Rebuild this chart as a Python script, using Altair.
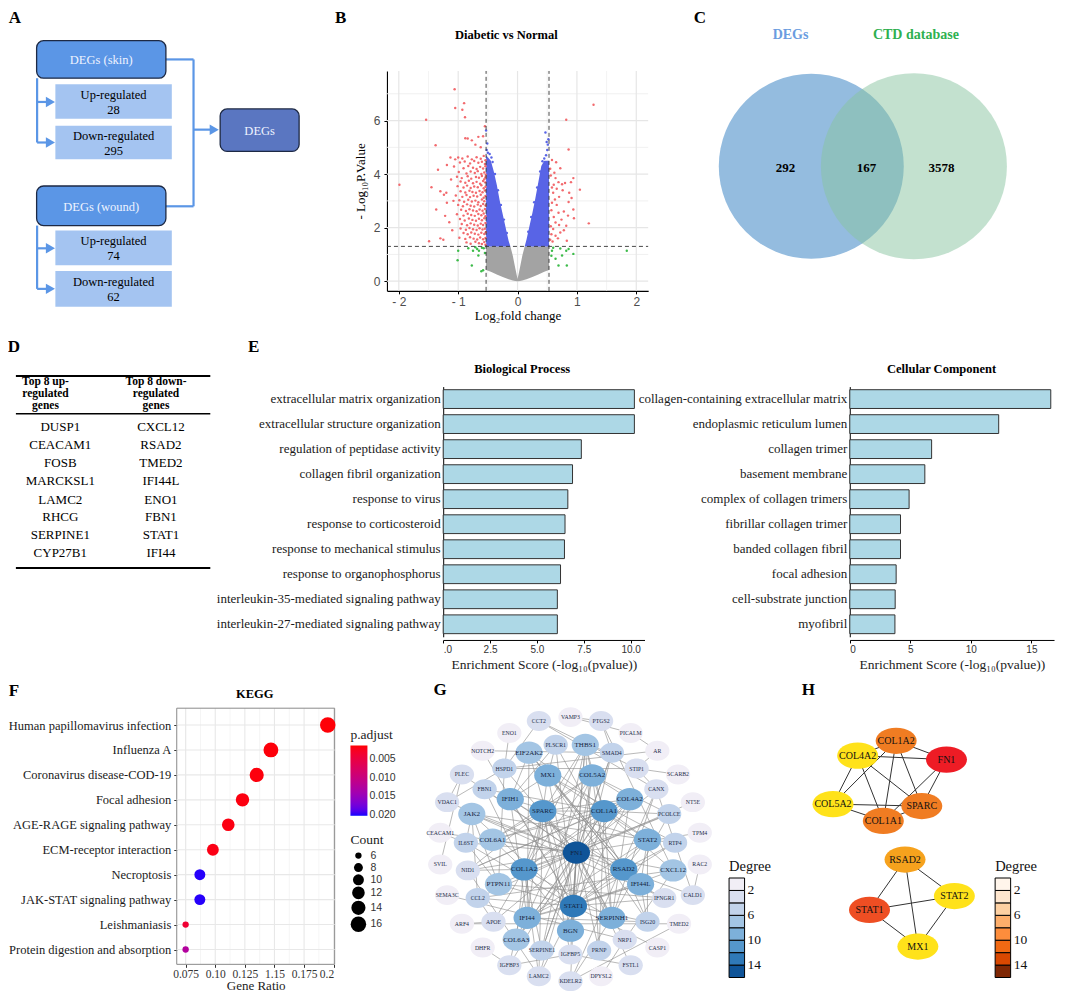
import altair as alt
import pandas as pd

# ============================ DATA ============================
# A: DEG screening flow
a_titles = ["DEGs (skin)", "Up-regulated", "Down-regulated", "DEGs (wound)",
            "Up-regulated", "Down-regulated", "DEGs"]
a_counts = ["", "28", "295", "", "74", "62", ""]
a_kinds = ["group", "sub", "sub", "group", "sub", "sub", "target"]

# B: volcano plot (log2 fold change, -log10 P value)
volcano_title = "Diabetic vs Normal"
fc_cut = 0.53
p_cut = 1.3
red_pts = [
    (-1.06, 7.17), (-0.90, 6.65), (-1.05, 6.47), (-0.93, 6.40), (-0.885, 6.12), (-1.54, 6.03),
    (-0.55, 5.79), (-1.38, 5.08), (-0.88, 5.34), (-0.84, 5.33), (-0.77, 5.26), (-0.66, 5.39),
    (-0.58, 5.41), (-0.71, 5.10), (-0.62, 5.00), (-1.34, 4.16), (-1.99, 3.60), (-1.45, 3.51),
    (-1.30, 3.36), (-1.37, 2.68), (-1.49, 1.49), (-1.30, 1.60), (-1.22, 2.44), (-1.19, 2.93),
    (-1.13, 4.62), (-1.19, 4.34), (-1.24, 3.23), (-1.25, 1.55), (-1.10, 1.90), (-1.15, 2.20),
    (-1.08, 3.00), (-1.12, 3.80), (-1.20, 3.30), (-1.05, 4.55),
    (-1.00, 4.62), (-0.93, 4.58), (-0.84, 4.66), (-0.77, 4.55), (-0.69, 4.63), (-0.62, 4.57), (-0.57, 4.68), (-0.54, 4.52),
    (-0.97, 4.43), (-0.89, 4.47), (-0.80, 4.40), (-0.73, 4.49), (-0.66, 4.42), (-0.60, 4.46), (-0.55, 4.38),
    (-1.07, 4.28), (-0.91, 4.22), (-0.83, 4.30), (-0.75, 4.24), (-0.69, 4.19), (-0.63, 4.27), (-0.58, 4.21), (-0.54, 4.29),
    (-0.99, 4.08), (-0.86, 4.02), (-0.79, 4.10), (-0.72, 4.04), (-0.67, 4.11), (-0.61, 4.00), (-0.56, 4.06), (-0.535, 3.98),
    (-1.02, 3.90), (-0.94, 3.85), (-0.84, 3.92), (-0.78, 3.83), (-0.70, 3.89), (-0.65, 3.86), (-0.60, 3.93), (-0.56, 3.81), (-0.54, 3.88),
    (-0.96, 3.72), (-0.88, 3.68), (-0.82, 3.75), (-0.75, 3.66), (-0.69, 3.71), (-0.63, 3.64), (-0.58, 3.74), (-0.545, 3.69),
    (-1.01, 3.55), (-0.91, 3.50), (-0.85, 3.57), (-0.79, 3.48), (-0.73, 3.54), (-0.67, 3.51), (-0.61, 3.58), (-0.57, 3.47), (-0.54, 3.53),
    (-0.96, 3.36), (-0.88, 3.31), (-0.81, 3.38), (-0.76, 3.33), (-0.70, 3.30), (-0.64, 3.37), (-0.59, 3.32), (-0.55, 3.39),
    (-1.04, 3.20), (-0.93, 3.15), (-0.86, 3.22), (-0.80, 3.14), (-0.74, 3.19), (-0.68, 3.16), (-0.62, 3.23), (-0.57, 3.12), (-0.54, 3.18),
    (-0.98, 3.02), (-0.90, 2.97), (-0.83, 3.04), (-0.77, 2.98), (-0.71, 3.01), (-0.66, 2.95), (-0.60, 3.05), (-0.56, 2.99),
    (-1.00, 2.85), (-0.92, 2.80), (-0.85, 2.87), (-0.79, 2.82), (-0.73, 2.79), (-0.67, 2.86), (-0.62, 2.81), (-0.58, 2.88), (-0.54, 2.83),
    (-0.95, 2.67), (-0.87, 2.62), (-0.81, 2.69), (-0.75, 2.64), (-0.69, 2.61), (-0.64, 2.68), (-0.59, 2.63), (-0.55, 2.70),
    (-1.02, 2.50), (-0.91, 2.45), (-0.84, 2.52), (-0.78, 2.47), (-0.72, 2.44), (-0.66, 2.51), (-0.61, 2.46), (-0.57, 2.53), (-0.54, 2.43),
    (-0.97, 2.32), (-0.89, 2.27), (-0.82, 2.34), (-0.76, 2.29), (-0.70, 2.26), (-0.65, 2.33), (-0.60, 2.28), (-0.56, 2.35),
    (-0.94, 2.14), (-0.85, 2.09), (-0.79, 2.16), (-0.73, 2.11), (-0.67, 2.08), (-0.62, 2.15), (-0.58, 2.10), (-0.54, 2.17),
    (-0.96, 1.97), (-0.87, 1.92), (-0.81, 1.99), (-0.75, 1.94), (-0.69, 1.91), (-0.64, 1.98), (-0.59, 1.93), (-0.55, 1.96),
    (-0.91, 1.80), (-0.84, 1.75), (-0.78, 1.82), (-0.72, 1.77), (-0.66, 1.74), (-0.61, 1.81), (-0.56, 1.76), (-0.535, 1.83),
    (-0.98, 1.62), (-0.88, 1.58), (-0.80, 1.64), (-0.74, 1.59), (-0.68, 1.56), (-0.63, 1.63), (-0.58, 1.57), (-0.54, 1.61),
    (-0.86, 1.45), (-0.79, 1.40), (-0.71, 1.47), (-0.65, 1.42), (-0.60, 1.39), (-0.56, 1.46), (-0.54, 1.36),
    (1.28, 6.59), (0.82, 6.03), (0.86, 4.92), (0.58, 4.53), (0.65, 4.44), (0.72, 4.22), (0.94, 3.85),
    (0.80, 3.67), (0.69, 3.70), (0.61, 3.60), (0.75, 3.62), (1.05, 3.42), (0.87, 3.30), (0.66, 3.45),
    (0.91, 3.11), (0.86, 2.96), (0.58, 2.93), (0.94, 2.68), (0.69, 2.56), (0.78, 2.60), (0.64, 2.19),
    (1.20, 2.16), (0.82, 2.07), (0.72, 1.82), (0.64, 1.70), (0.83, 1.51), (0.59, 1.48), (0.56, 3.95),
    (0.60, 3.30), (0.63, 3.05), (0.57, 2.65), (0.61, 2.40), (0.56, 2.05), (0.66, 2.85), (0.70, 3.15),
    (0.74, 2.30), (0.57, 1.75), (0.68, 1.60), (0.62, 4.05), (0.55, 4.20), (0.76, 3.40), (0.90, 3.70),
    (0.85, 2.45), (0.60, 1.95), (0.55, 1.55), (0.70, 2.10), (0.78, 1.90), (0.95, 2.35), (0.58, 3.50),
    (0.64, 3.85),
]
green_pts = [
    (-1.00, 1.14), (-1.01, 0.78), (-0.83, 1.23), (-0.75, 1.14), (-0.77, 0.59), (-0.65, 1.14),
    (-0.61, 0.37), (-0.68, 1.20), (-0.57, 1.23), (-0.66, 0.96), (-0.58, 0.41), (-0.55, 1.05),
    (-0.60, 1.25), (-0.71, 1.27),
    (0.58, 1.14), (0.64, 0.84), (0.69, 0.59), (0.75, 0.96), (0.82, 1.14), (0.83, 0.59),
    (0.94, 1.02), (0.86, 1.20), (1.84, 1.14), (0.57, 0.95), (0.60, 1.25), (0.72, 1.22),
]
blue_pts = [
    (-0.53, 5.63), (-0.51, 5.14), (-0.52, 4.90), (-0.50, 4.80), (-0.47, 4.75), (-0.44, 4.62),
    (-0.42, 4.45), (-0.38, 4.00), (-0.33, 3.40), (-0.28, 2.85), (-0.23, 2.30), (-0.18, 1.80),
    (0.47, 5.55), (0.49, 5.20), (0.51, 5.10), (0.50, 4.90), (0.48, 4.70), (0.45, 4.58),
    (0.42, 4.48), (0.38, 4.10), (0.33, 3.50), (0.28, 2.95), (0.23, 2.40), (0.18, 1.85), (0.52, 5.30),
]
blue_env_left_x = [-0.53, -0.45, -0.40, -0.35, -0.30, -0.25, -0.20, -0.15, -0.12]
blue_env_left_y = [4.70, 4.50, 4.10, 3.60, 3.00, 2.50, 2.00, 1.50, 1.30]
blue_env_right_x = [0.12, 0.15, 0.20, 0.25, 0.30, 0.35, 0.40, 0.45, 0.53]
blue_env_right_y = [1.30, 1.55, 2.05, 2.55, 3.10, 3.70, 4.30, 4.50, 4.50]
gray_x = [-0.53, -0.45, -0.35, -0.25, -0.15, -0.12, -0.08, -0.04, 0.0,
          0.04, 0.08, 0.12, 0.15, 0.25, 0.35, 0.45, 0.53]
gray_top = [1.3, 1.3, 1.3, 1.3, 1.3, 1.3, 0.95, 0.5, 0.08,
            0.5, 0.95, 1.3, 1.3, 1.3, 1.3, 1.3, 1.3]
gray_bottom = [0.42, 0.35, 0.25, 0.16, 0.07, 0.05, 0.03, 0.01, 0.0,
               0.01, 0.03, 0.05, 0.07, 0.16, 0.25, 0.35, 0.42]

# C: Venn diagram
venn_sets = ["DEGs", "CTD database"]
venn_counts = [292, 167, 3578]

# D: top genes table
head_up = ["Top 8 up-", "regulated", "genes"]
head_down = ["Top 8 down-", "regulated", "genes"]
top_up = ["DUSP1", "CEACAM1", "FOSB", "MARCKSL1", "LAMC2", "RHCG", "SERPINE1", "CYP27B1"]
top_down = ["CXCL12", "RSAD2", "TMED2", "IFI44L", "ENO1", "FBN1", "STAT1", "IFI44"]

# E: GO enrichment
bp_terms = ["extracellular matrix organization", "extracellular structure organization",
            "regulation of peptidase activity", "collagen fibril organization",
            "response to virus", "response to corticosteroid",
            "response to mechanical stimulus", "response to organophosphorus",
            "interleukin-35-mediated signaling pathway",
            "interleukin-27-mediated signaling pathway"]
bp_scores = [10.2, 10.2, 7.37, 6.9, 6.65, 6.5, 6.47, 6.26, 6.09, 6.09]
cc_terms = ["collagen-containing extracellular matrix", "endoplasmic reticulum lumen",
            "collagen trimer", "basement membrane", "complex of collagen trimers",
            "fibrillar collagen trimer", "banded collagen fibril", "focal adhesion",
            "cell-substrate junction", "myofibril"]
cc_scores = [16.6, 12.3, 6.76, 6.2, 4.9, 4.19, 4.19, 3.83, 3.75, 3.73]

# F: KEGG
kegg_terms = ["Human papillomavirus infection", "Influenza A", "Coronavirus disease-COD-19",
              "Focal adhesion", "AGE-RAGE signaling pathway", "ECM-receptor interaction",
              "Necroptosis", "JAK-STAT signaling pathway", "Leishmaniasis",
              "Protein digestion and absorption"]
kegg_ratio = [0.195, 0.147, 0.135, 0.123, 0.111, 0.098, 0.087, 0.087, 0.075, 0.075]
kegg_padj = [0.0014, 0.0015, 0.0016, 0.0017, 0.0018, 0.0019, 0.0200, 0.0200, 0.0038, 0.0125]
kegg_count = [16, 15, 14, 13, 12, 11, 10, 10, 6, 6]
kegg_ticks = [0.075, 0.1, 0.125, 0.15, 0.175, 0.2]
kegg_tick_labels = ["0.075", "0.10", "0.125", "1.15", "0.175", "0.2"]

# G: PPI network (layout units relative to the network centre)
ppi_genes = ["CCT2", "VAMP3", "PTGS2", "ENO1", "PICALM", "NOTCH2", "EIF2AK2", "PLSCR1", "THBS1", "SMAD4",
             "AR", "HSPD1", "MX1", "COL5A2", "STIP1", "SCARB2", "PLEC", "FBN1", "IFIH1", "CANX",
             "COL4A2", "VDAC1", "NT5E", "JAK2", "SPARC", "COL1A1", "PCOLCE", "CEACAM1", "IL6ST", "COL6A1",
             "FN1", "STAT2", "RTP4", "TPM4", "SVIL", "NID1", "COL1A2", "RSAD2", "CXCL12", "RAC2",
             "PTPN11", "IFI44L", "SEMA3C", "CCL2", "IFNGR1", "CALD1", "STAT1", "IFI44", "SERPINH1", "ARF4",
             "APOE", "ISG20", "TMED2", "BGN", "COL6A3", "NRP1", "DHFR", "CASP1", "SERPINE1", "IGFBP5",
             "PRNP", "IGFBP3", "FSTL1", "LAMC2", "KDELR2", "DPYSL2"]
ppi_degree = [3, 2, 3, 2, 2, 2, 8, 5, 8, 5,
              2, 5, 10, 10, 4, 2, 3, 6, 9, 4,
              10, 3, 2, 7, 11, 11, 5, 2, 6, 8,
              15, 10, 6, 1, 2, 4, 12, 12, 7, 1,
              8, 9, 2, 6, 4, 3, 13, 9, 9, 2,
              4, 6, 2, 9, 7, 4, 2, 1, 6, 4,
              6, 3, 3, 3, 3, 2]
ppi_lx = [-38, -6, 25, -68, 55, -95, -48, -21, 9, 36,
          82, -73, -29, 16, 61, 103, -116, -93, -67, 81,
          54, -131, 118, -106, -34, 28, 94, -138, -112, -85,
          0, 72, 100, 125, -138, -110, -53, 48, 98, 125,
          -79, 65, -131, -100, 89, 118, -3, -50, 36, -116,
          -84, 72, 104, -6, -61, 49, -95, 82, -35, -6,
          23, -68, 55, -38, -6, 25]
ppi_ly = [-133, -137, -133, -121, -121, -103, -101, -109, -109, -101,
          -103, -85, -78, -78, -85, -79, -79, -64, -54, -64,
          -54, -51, -51, -39, -42, -42, -39, -20, -10, -13,
          0, -13, -10, -20, 12, 18, 17, 17, 18, 12,
          32, 32, 43, 46, 46, 43, 54, 66, 66, 72,
          70, 70, 72, 79, 88, 88, 96, 96, 99, 103,
          99, 114, 114, 125, 130, 125]
ppi_links = {
    "FN1": "COL1A2 COL1A1 SPARC COL5A2 COL4A2 THBS1 BGN SERPINH1 COL6A1 COL6A3 SERPINE1 IGFBP5 IGFBP3 "
           "LAMC2 NID1 FBN1 PCOLCE CXCL12 APOE CCL2 STAT1 JAK2 IL6ST PLEC CANX HSPD1 NRP1 PTPN11 IFNGR1 "
           "FSTL1 CALD1 TPM4 PRNP KDELR2 SMAD4 VDAC1 CEACAM1 NT5E",
    "STAT1": "STAT2 RSAD2 MX1 IFIH1 EIF2AK2 IFI44 IFI44L ISG20 JAK2 IL6ST PTPN11 IFNGR1 CCL2 CXCL12 "
             "NOTCH2 SMAD4 RTP4 PLSCR1 CASP1",
    "RSAD2": "STAT2 MX1 IFIH1 EIF2AK2 IFI44 IFI44L ISG20 RTP4 PLSCR1",
    "MX1": "STAT2 IFIH1 EIF2AK2 IFI44 IFI44L ISG20 RTP4 PLSCR1",
    "STAT2": "IFIH1 EIF2AK2 IFI44 IFI44L ISG20 RTP4 JAK2",
    "IFIH1": "EIF2AK2 IFI44 IFI44L PLSCR1",
    "IFI44": "IFI44L ISG20 EIF2AK2",
    "IFI44L": "ISG20 EIF2AK2",
    "COL1A2": "COL1A1 COL5A2 COL4A2 SPARC BGN SERPINH1 COL6A1 COL6A3 PCOLCE FBN1 NID1 LAMC2 THBS1 SERPINE1 APOE",
    "COL1A1": "COL5A2 COL4A2 SPARC BGN SERPINH1 COL6A1 COL6A3 PCOLCE FBN1 NID1 THBS1 PRNP CXCL12",
    "SPARC": "COL5A2 COL4A2 BGN SERPINH1 COL6A1 THBS1 LAMC2 IGFBP5 NID1 IGFBP3",
    "COL5A2": "COL4A2 BGN SERPINH1 COL6A1 COL6A3 THBS1 PCOLCE",
    "COL4A2": "NID1 LAMC2 COL6A1 SERPINH1 COL6A3",
    "THBS1": "SERPINE1 BGN SMAD4 PRNP",
    "JAK2": "IL6ST PTPN11 CCL2 IFNGR1",
    "PTPN11": "IL6ST IFNGR1 HSPD1",
    "HSPD1": "ENO1 CCT2 STIP1 VDAC1",
    "CCT2": "STIP1 CANX",
    "CANX": "STIP1 SERPINH1 KDELR2 CALD1",
    "SERPINH1": "KDELR2 PCOLCE",
    "APOE": "CCL2 ARF4",
    "SMAD4": "NOTCH2 SERPINE1 PTGS2",
    "PTGS2": "CXCL12 VAMP3",
    "CXCL12": "CCL2 NRP1",
    "NRP1": "SEMA3C DPYSL2",
    "IGFBP5": "IGFBP3 FSTL1",
    "AR": "STIP1 HSPD1",
    "PICALM": "VAMP3 AR",
    "TMED2": "KDELR2 ARF4",
    "DHFR": "IGFBP3",
    "PLEC": "VDAC1 SVIL",
    "SCARB2": "STIP1",
    "RAC2": "CALD1",
    "CEACAM1": "IL6ST",
    "LAMC2": "NID1",
}

# H: hub gene clusters (layout units relative to panel centre)
hub_genes = ["COL1A2", "COL4A2", "FN1", "COL5A2", "SPARC", "COL1A1", "RSAD2", "STAT2", "STAT1", "MX1"]
hub_rank = [3, 7, 1, 8, 4, 5, 6, 9, 2, 10]
hub_degree = [12, 10, 15, 10, 11, 11, 12, 10, 13, 10]
hub_lx = [2, -37, 53, -62, 28, -11, 11, 61, -25, 24]
hub_ly = [-106, -91, -87, -42, -40, -25, 14, 51, 65, 102]
hub_links = [("COL1A2", "COL4A2"), ("COL1A2", "FN1"), ("COL1A2", "COL1A1"), ("COL1A2", "SPARC"),
             ("COL1A2", "COL5A2"), ("COL4A2", "FN1"), ("COL4A2", "COL5A2"), ("COL4A2", "COL1A1"),
             ("COL4A2", "SPARC"), ("FN1", "SPARC"), ("FN1", "COL1A1"), ("COL5A2", "SPARC"),
             ("COL5A2", "COL1A1"), ("SPARC", "COL1A1"),
             ("RSAD2", "STAT1"), ("RSAD2", "STAT2"), ("RSAD2", "MX1"), ("STAT1", "STAT2"),
             ("STAT1", "MX1"), ("STAT2", "MX1")]

# ============================ LAYOUT ============================
W, H = 1049, 987


def cx(X):
    return (X - 2.0) * W / 1063.0


def cy(Y):
    return (Y - 3.0) * H / 998.0


def pscale(d0, d1, p0, p1, f, **kw):
    return alt.Scale(domain=[d0, d1], range=[f(p0), f(p1)], nice=False, zero=False, **kw)


SERIF = "Liberation Serif"
SANS = "Liberation Sans"
CXS = pscale(0, 1065, 0, 1065, cx)
CYS = pscale(0, 1003, 0, 1003, cy)


def XQ(f, s, ax=None):
    return alt.X(f + ":Q", scale=s, axis=ax)


def YQ(f, s, ax=None):
    return alt.Y(f + ":Q", scale=s, axis=ax)


def texts(df, size, color="black", weight="normal", font=SERIF, align="center", sx=CXS, sy=CYS, **kw):
    return alt.Chart(df).mark_text(font=font, fontSize=size, color=color, fontWeight=weight,
                                   align=align, baseline="middle", **kw).encode(
        x=XQ("x", sx), y=YQ("y", sy), text="t:N")


deco = []

# ---- panel letters
deco.append(texts(pd.DataFrame(dict(t=list("ABCDEFGH"),
                                    x=[9, 339, 703, 8, 251, 8, 440, 813],
                                    y=[13, 13, 13, 346, 346, 694, 693, 693])), 17, weight="bold"))

# ---- A: flow chart
dfA = pd.DataFrame(dict(kind=a_kinds, title=a_titles, count=a_counts,
                        x0=[31, 50, 50, 31, 50, 50, 217], x1=[162, 168, 168, 162, 168, 168, 297],
                        y0=[36, 80, 122, 183, 228, 269, 105], y1=[74, 115, 156, 223, 263, 305, 148]))
dfA["x"] = (dfA.x0 + dfA.x1) / 2
dfA["yc"] = (dfA.y0 + dfA.y1) / 2
A_BLUE = "#5B96E6"
links = pd.DataFrame([(162, 55, 190, 55), (190, 55, 190, 203.5), (162, 203.5, 190, 203.5),
                      (190, 126, 208, 126), (31.5, 74, 31.5, 139), (31.5, 98, 44, 98),
                      (31.5, 139, 44, 139), (31.5, 223, 31.5, 287), (31.5, 246, 44, 246),
                      (31.5, 287, 44, 287)], columns=["x", "y", "x2", "y2"])
deco.append(alt.Chart(links).mark_rule(color=A_BLUE, strokeWidth=2.2).encode(
    x=XQ("x", CXS), y=YQ("y", CYS), x2="x2", y2="y2"))
arrows = pd.DataFrame(dict(x=[211, 45, 45, 45, 45], y=[126, 98, 139, 246, 287]))
deco.append(alt.Chart(arrows).mark_point(shape="triangle-right", filled=True, size=110,
                                         color=A_BLUE, opacity=1).encode(x=XQ("x", CXS), y=YQ("y", CYS)))


def box(df, fill, **kw):
    return alt.Chart(df).mark_rect(fill=fill, **kw).encode(
        x=XQ("x0", CXS), x2="x1", y=YQ("y0", CYS), y2="y1")


deco.append(box(dfA[dfA.kind == "sub"], "#A4C4F1"))
deco.append(box(dfA[dfA.kind == "group"], A_BLUE, cornerRadius=7, stroke="#1D2944", strokeWidth=1.3))
deco.append(box(dfA[dfA.kind == "target"], "#5A76C1", cornerRadius=7, stroke="#1D2944", strokeWidth=1.3))
subA = dfA[dfA.kind == "sub"]
deco.append(texts(pd.DataFrame(dict(t=subA.title, x=subA.x, y=subA.yc - 7)), 12.5))
deco.append(texts(pd.DataFrame(dict(t=subA["count"], x=subA.x, y=subA.yc + 8.5)), 12.5))
grpA = dfA[dfA.kind != "sub"]
deco.append(texts(pd.DataFrame(dict(t=grpA.title, x=grpA.x, y=grpA.yc + 1)), 12.5, color="#EEF3FF"))

# ---- B title
deco.append(texts(pd.DataFrame(dict(t=[volcano_title], x=[507], y=[30])), 12.5, weight="bold"))

# ---- C: Venn
deco.append(alt.Chart(pd.DataFrame(dict(x=[816], y=[163]))).mark_point(
    shape="circle", filled=True, size=185 ** 2, color="#94BCDF", opacity=1, strokeWidth=0).encode(
    x=XQ("x", CXS), y=YQ("y", CYS)))
deco.append(alt.Chart(pd.DataFrame(dict(x=[920], y=[163]))).mark_point(
    shape="circle", filled=True, size=186 ** 2, color="#87C39F", opacity=0.5, strokeWidth=0).encode(
    x=XQ("x", CXS), y=YQ("y", CYS)))
deco.append(texts(pd.DataFrame(dict(t=[venn_sets[0]], x=[795], y=[30])), 14, color="#6A9CE0", weight="bold"))
deco.append(texts(pd.DataFrame(dict(t=[venn_sets[1]], x=[922], y=[30])), 14, color="#2EB04F", weight="bold"))
deco.append(texts(pd.DataFrame(dict(t=[str(v) for v in venn_counts], x=[790, 872, 948], y=[165, 165, 165])),
                  13, weight="bold"))

# ---- D: table
hy = [381.5, 393.5, 405.5]
dfDh = pd.DataFrame(dict(t=head_up + head_down, x=[40] * 3 + [152] * 3, y=hy + hy))
ry = [426.7, 445, 463.3, 481.7, 500, 517.7, 536, 554.3]
dfDb = pd.DataFrame(dict(t=top_up + top_down, x=[55] * 8 + [157] * 8, y=ry + ry))
deco.append(texts(dfDh, 11.5, weight="bold"))
deco.append(texts(dfDb, 13))
deco.append(alt.Chart(pd.DataFrame(dict(x=[10, 10], x2=[207, 207], y=[375, 569.3]))).mark_rule(
    color="black", strokeWidth=2).encode(x=XQ("x", CXS), x2="x2", y=YQ("y", CYS)))
deco.append(alt.Chart(pd.DataFrame(dict(x=[10], x2=[207], y=[413.3]))).mark_rule(
    color="black", strokeWidth=1.4).encode(x=XQ("x", CXS), x2="x2", y=YQ("y", CYS)))

# ---- E / F titles
deco.append(texts(pd.DataFrame(dict(t=["Biological Process", "Cellular Component", "KEGG"],
                                    x=[523, 948, 252], y=[368, 368, 697])), 12.5, weight="bold"))

decor = alt.layer(*deco)

# ============================ B: volcano ============================
B_XD = [-2.2, 2.2]
B_YD = [-0.36, 7.85]
bx = pscale(B_XD[0], B_XD[1], 386, 650.7, cx)
by = pscale(B_YD[0], B_YD[1], 289, 66.7, cy)
ax_bx = alt.Axis(orient="bottom", offset=cy(289) - H, values=[-2, -1, 0, 1, 2],
                 labelExpr="datum.value < 0 ? '- ' + format(-datum.value, 'd') : format(datum.value, 'd')",
                 grid=False, domainColor="black", domainWidth=1.1, tickColor="black", tickSize=3,
                 labelFont=SANS, labelFontSize=12, labelColor="#4D4D4D", labelPadding=3,
                 title="Log₂fold change", titleFont=SERIF, titleFontSize=13, titleFontWeight="normal",
                 titleColor="black", titlePadding=2)
ax_by = alt.Axis(orient="left", offset=-cx(386), values=[0, 2, 4, 6], grid=False,
                 domainColor="black", domainWidth=1.1, tickColor="black", tickSize=3,
                 labelFont=SANS, labelFontSize=12, labelColor="#4D4D4D", labelPadding=4,
                 title="- Log₁₀P.Value", titleFont=SERIF, titleFontSize=13, titleFontWeight="normal",
                 titleColor="black", titlePadding=6)


def bX(f):
    return alt.X(f + ":Q", scale=bx, axis=ax_bx)


def bY(f):
    return alt.Y(f + ":Q", scale=by, axis=ax_by)


gvM = pd.DataFrame(dict(v=[-2, -1, 0, 1, 2]))
gvm = pd.DataFrame(dict(v=[-1.5, -0.5, 0.5, 1.5]))
for d in (gvM, gvm):
    d["lo"], d["hi"] = B_YD
ghM = pd.DataFrame(dict(v=[0, 2, 4, 6]))
ghm = pd.DataFrame(dict(v=[1, 3, 5, 7]))
for d in (ghM, ghm):
    d["lo"], d["hi"] = B_XD

B_layers = [
    alt.Chart(gvm).mark_rule(color="#EEEEEE", strokeWidth=0.7).encode(x=bX("v"), y=bY("lo"), y2="hi"),
    alt.Chart(ghm).mark_rule(color="#EEEEEE", strokeWidth=0.9).encode(y=bY("v"), x=bX("lo"), x2="hi"),
    alt.Chart(gvM).mark_rule(color="#E6E6E6", strokeWidth=1.2).encode(x=bX("v"), y=bY("lo"), y2="hi"),
    alt.Chart(ghM).mark_rule(color="#E6E6E6", strokeWidth=1.2).encode(y=bY("v"), x=bX("lo"), x2="hi"),
]
dfg = pd.DataFrame(dict(x=gray_x, top=gray_top, bot=gray_bottom))
B_layers.append(alt.Chart(dfg).mark_area(color="#A3A3A3", opacity=1).encode(x=bX("x"), y=bY("top"), y2="bot"))
for ex, ey in ((blue_env_left_x, blue_env_left_y), (blue_env_right_x, blue_env_right_y)):
    dfb = pd.DataFrame(dict(x=ex, top=ey))
    dfb["bot"] = p_cut
    B_layers.append(alt.Chart(dfb).mark_area(color="#5864E6", opacity=1).encode(
        x=bX("x"), y=bY("top"), y2="bot"))
for pts, col in ((blue_pts, "#5864E6"), (green_pts, "#3DBB4A"), (red_pts, "#F26A6E")):
    B_layers.append(alt.Chart(pd.DataFrame(pts, columns=["x", "y"])).mark_circle(
        size=6, color=col, opacity=1).encode(x=bX("x"), y=bY("y")))
dv = pd.DataFrame(dict(x=[-fc_cut, fc_cut]))
dv["lo"], dv["hi"] = B_YD
dh = pd.DataFrame(dict(y=[p_cut]))
dh["lo"], dh["hi"] = B_XD
B_layers.append(alt.Chart(dv).mark_rule(color="#333333", strokeWidth=0.9, strokeDash=[4, 3]).encode(
    x=bX("x"), y=bY("lo"), y2="hi"))
B_layers.append(alt.Chart(dh).mark_rule(color="#333333", strokeWidth=0.9, strokeDash=[4, 3]).encode(
    y=bY("y"), x=bX("lo"), x2="hi"))
panelB = alt.layer(*B_layers)


# ============================ E: GO bars ============================
def go_panel(terms, scores, xmax, x0, x1, ticks, label_expr):
    sx = pscale(0, xmax, x0, x1, cx)
    sy = alt.Scale(domain=terms, range=[cy(385.8), cy(638.8)], paddingInner=0.25, paddingOuter=0.125)
    axx = alt.Axis(orient="bottom", offset=cy(642) - H, values=ticks, labelExpr=label_expr, grid=False,
                   domainColor="black", domainWidth=1, tickColor="black", tickSize=3,
                   labelFont=SANS, labelFontSize=10, labelColor="#333333", labelPadding=2,
                   title="Enrichment Score (-log₁₀(pvalue))", titleFont=SERIF, titleFontSize=13.5,
                   titleFontWeight="normal", titleColor="#222222", titlePadding=3)
    axy = alt.Axis(orient="left", offset=-cx(x0), ticks=False, grid=False, domainColor="black",
                   domainWidth=1, labelFont=SERIF, labelFontSize=13, labelColor="#1A1A1A",
                   labelPadding=3, labelLimit=400, title=None)
    df = pd.DataFrame(dict(term=terms, score=scores))
    df["base"] = 0
    return alt.Chart(df).mark_bar(fill="#ADD8E6", stroke="#333333", strokeWidth=1).encode(
        x=alt.X("base:Q", scale=sx, axis=axx), x2="score",
        y=alt.Y("term:N", scale=sy, axis=axy, sort=None))


panelBP = go_panel(bp_terms, bp_scores, 10.74, 443, 647, [0, 2.5, 5, 7.5, 10],
                   "datum.value == 0 ? '.0' : format(datum.value, '.1f')")
panelCC = go_panel(cc_terms, cc_scores, 16.87, 855, 1062, [0, 5, 10, 15], "format(datum.value, 'd')")

# ============================ F: KEGG dot plot ============================
F_XD = [0.0675, 0.2008]
F_BOTTOM = 970
fx = pscale(F_XD[0], F_XD[1], 173, 333, cx)
fgy = pscale(0, 1, F_BOTTOM, 711, cy)
fmid = [(a + b) / 2 for a, b in zip(kegg_ticks[:-1], kegg_ticks[1:])]
dgrid = pd.DataFrame(dict(v=kegg_ticks + fmid + [0.0625 + 0.0125], w=["M"] * 6 + ["m"] * 6))
dgrid["lo"], dgrid["hi"] = 0, 1
dframe = pd.DataFrame(dict(x=[F_XD[0]], x2=[F_XD[1]], y=[0], y2=[1]))
panelFgrid = alt.layer(
    alt.Chart(dgrid[dgrid.w == "m"]).mark_rule(color="#F2F2F2", strokeWidth=0.8).encode(
        x=XQ("v", fx), y=YQ("lo", fgy), y2="hi"),
    alt.Chart(dgrid[dgrid.w == "M"]).mark_rule(color="#E8E8E8", strokeWidth=1.1).encode(
        x=XQ("v", fx), y=YQ("lo", fgy), y2="hi"),
    alt.Chart(dframe).mark_rect(fillOpacity=0, stroke="#8A8A8A", strokeWidth=1).encode(
        x=XQ("x", fx), x2="x2", y=YQ("y", fgy), y2="y2"),
)

lab_expr = "''"
for v, lab in reversed(list(zip(kegg_ticks, kegg_tick_labels))):
    lab_expr = f"abs(datum.value - {v}) < 1e-6 ? '{lab}' : ({lab_expr})"
ax_fx = alt.Axis(orient="bottom", offset=cy(F_BOTTOM) - H, values=kegg_ticks, labelExpr=lab_expr, grid=False,
                 domain=False, tickColor="#333333", tickSize=3, labelFont=SERIF, labelFontSize=11.5,
                 labelColor="#333333", labelPadding=1, title="Gene Ratio", titleFont=SERIF,
                 titleFontSize=13, titleFontWeight="normal", titleColor="#222222", titlePadding=0)
fy = alt.Scale(type="point", domain=kegg_terms, range=[cy(728), cy(955)], padding=0)
ax_fy = alt.Axis(orient="left", offset=-cx(173), grid=False, domain=False, tickColor="#333333",
                 tickSize=3, labelFont=SERIF, labelFontSize=12.5, labelColor="#1A1A1A", labelPadding=3,
                 labelLimit=400, title=None)
dK = pd.DataFrame(dict(term=kegg_terms, ratio=kegg_ratio, padj=kegg_padj, count=kegg_count))
dK["neg_padj"] = -dK["padj"]
dK["lo"], dK["hi"] = F_XD
panelF = alt.layer(
    alt.Chart(dK).mark_rule(color="#E8E8E8", strokeWidth=1.1).encode(
        y=alt.Y("term:N", scale=fy, axis=ax_fy, sort=None), x=XQ("lo", fx, ax_fx), x2="hi"),
    alt.Chart(dK).mark_circle(opacity=1).encode(
        y=alt.Y("term:N", scale=fy, axis=ax_fy, sort=None), x=XQ("ratio", fx, ax_fx),
        color=alt.Color("neg_padj:Q",
                        scale=alt.Scale(domain=[-0.0203, -0.0012], range=["#0000FF", "#FF0000"],
                                        interpolate="lab", nice=False, zero=False),
                        legend=alt.Legend(title="p.adjust", orient="none", legendX=cx(349), legendY=cy(731),
                                          direction="vertical", gradientLength=cy(820) - cy(749),
                                          gradientThickness=17, values=[-0.02, -0.015, -0.01, -0.005],
                                          labelExpr="format(-datum.value, '.3f')", labelFont=SANS,
                                          labelFontSize=10.5, labelColor="#333333", titleFont=SERIF,
                                          titleFontSize=13.5, titleFontWeight="normal", titleColor="#222222",
                                          titlePadding=4, gradientStrokeWidth=0, padding=0)),
        size=alt.Size("count:Q", scale=alt.Scale(domain=[6, 16], range=[40, 240], zero=False, nice=False),
                      legend=alt.Legend(title="Count", orient="none", legendX=cx(349), legendY=cy(837),
                                        values=[6, 8, 10, 12, 14, 16], symbolFillColor="black",
                                        symbolStrokeWidth=0, labelFont=SANS, labelFontSize=10.5,
                                        labelColor="#333333", titleFont=SERIF, titleFontSize=13.5,
                                        titleFontWeight="normal", titleColor="#222222", titlePadding=4,
                                        rowPadding=1, padding=0)),
    ),
)

# ============================ G: PPI network ============================
gx = pscale(-150, 150, 428, 728, cx)
gy = pscale(-150, 150, 707, 1007, cy)
dG = pd.DataFrame(dict(gene=ppi_genes, degree=ppi_degree, x=ppi_lx, y=ppi_ly))
dG["neg_degree"] = -dG["degree"]
pos = dG.set_index("gene")
edges = []
for a, bs in ppi_links.items():
    for b in bs.split():
        if (b, a) not in edges and (a, b) not in edges:
            edges.append((a, b))
dGe = pd.DataFrame(edges, columns=["a", "b"])
dGe["x"] = dGe.a.map(pos.x)
dGe["y"] = dGe.a.map(pos.y)
dGe["x2"] = dGe.b.map(pos.x)
dGe["y2"] = dGe.b.map(pos.y)
ELL_G = "M-1,0A1,0.82,0,1,1,1,0A1,0.82,0,1,1,-1,0Z"
blues = ["#F1EEF6", "#D9DFF0", "#C2D3EB", "#A3C5E4", "#7DB0DA", "#5597CC", "#2F79B8", "#0F5498"]
deg_legend_common = dict(title="Degree", orient="none", direction="vertical", type="gradient",
                         gradientLength=cy(983.3) - cy(882.7), gradientThickness=15.5,
                         gradientStrokeColor="black", gradientStrokeWidth=1,
                         labelExpr="abs(datum.value) % 4 == 2 ? format(abs(datum.value), 'd') : ''",
                         labelFont=SERIF, labelFontSize=13.5, labelColor="#111111", labelOffset=3,
                         titleFont=SERIF, titleFontSize=14.5, titleFontWeight="normal", titleColor="#111111",
                         titlePadding=4, padding=0, labelOverlap=False)
panelG = alt.layer(
    alt.Chart(dGe).mark_rule(color="#8F8F8F", strokeWidth=0.7, opacity=0.9).encode(
        x=XQ("x", gx), y=YQ("y", gy), x2="x2", y2="y2"),
    alt.Chart(dG).mark_point(shape=ELL_G, filled=True, opacity=1, strokeWidth=0).encode(
        x=XQ("x", gx), y=YQ("y", gy),
        color=alt.Color("neg_degree:Q",
                        scale=alt.Scale(type="quantize", domain=[-16, 0], range=blues[::-1], nice=False),
                        legend=alt.Legend(legendX=cx(732.7), legendY=cy(864), **deg_legend_common)),
        size=alt.Size("degree:Q", scale=alt.Scale(type="threshold", domain=[7], range=[590, 740]), legend=None)),
    alt.Chart(dG[dG.degree < 7]).mark_text(font=SERIF, fontSize=5.8, color="#1B2B48").encode(
        x=XQ("x", gx), y=YQ("y", gy), text="gene:N"),
    alt.Chart(dG[dG.degree >= 7]).mark_text(font=SERIF, fontSize=7, color="#14233D").encode(
        x=XQ("x", gx), y=YQ("y", gy), text="gene:N"),
)

# ============================ H: hub clusters ============================
hx = pscale(-150, 150, 750, 1050, cx)
hyS = pscale(-150, 150, 700, 1000, cy)
dH = pd.DataFrame(dict(gene=hub_genes, rank=hub_rank, degree=hub_degree, x=hub_lx, y=hub_ly))
dH["neg_degree"] = -dH["degree"]
hpos = dH.set_index("gene")
dHe = pd.DataFrame(hub_links, columns=["a", "b"])
dHe["x"] = dHe.a.map(hpos.x)
dHe["y"] = dHe.a.map(hpos.y)
dHe["x2"] = dHe.b.map(hpos.x)
dHe["y2"] = dHe.b.map(hpos.y)
ELL_H = "M-1,0A1,0.64,0,1,1,1,0A1,0.64,0,1,1,-1,0Z"
oranges = ["#FFF5EB", "#FEE6CE", "#FDD0A2", "#FDAE6B", "#FD8D3C", "#F16913", "#D94801", "#7F2704"]
panelH = alt.layer(
    alt.Chart(dHe).mark_rule(color="#333333", strokeWidth=1).encode(
        x=XQ("x", hx), y=YQ("y", hyS), x2="x2", y2="y2"),
    alt.Chart(dH).mark_point(shape=ELL_H, filled=True, opacity=0).encode(
        x=XQ("x", hx), y=YQ("y", hyS),
        color=alt.Color("neg_degree:Q",
                        scale=alt.Scale(type="quantize", domain=[-16, 0], range=oranges[::-1], nice=False),
                        legend=alt.Legend(legendX=cx(1002.3), legendY=cy(864), **deg_legend_common))),
    alt.Chart(dH).mark_point(shape=ELL_H, filled=True, opacity=1, strokeWidth=0, size=41 ** 2).encode(
        x=XQ("x", hx), y=YQ("y", hyS),
        fill=alt.Fill("rank:Q", scale=alt.Scale(domain=[1, 2, 3, 5, 6, 7, 10],
                                                range=["#EE1C25", "#EE4E23", "#F07C22", "#F07C22",
                                                       "#F6A21D", "#FFE21A", "#FFE21A"]), legend=None)),
    alt.Chart(dH).mark_text(font=SERIF, fontSize=10, color="#111111").encode(
        x=XQ("x", hx), y=YQ("y", hyS), text="gene:N"),
)

chart = alt.layer(decor, panelB, panelBP, panelCC, panelFgrid, panelF, panelG, panelH).resolve_scale(
    x="independent", y="independent", color="independent", fill="independent", size="independent"
).properties(width=W, height=H, padding=0, autosize=alt.AutoSizeParams(type="none")).configure_view(stroke=None)

chart.save("out.html", embed_options={"renderer": "svg", "actions": False})
